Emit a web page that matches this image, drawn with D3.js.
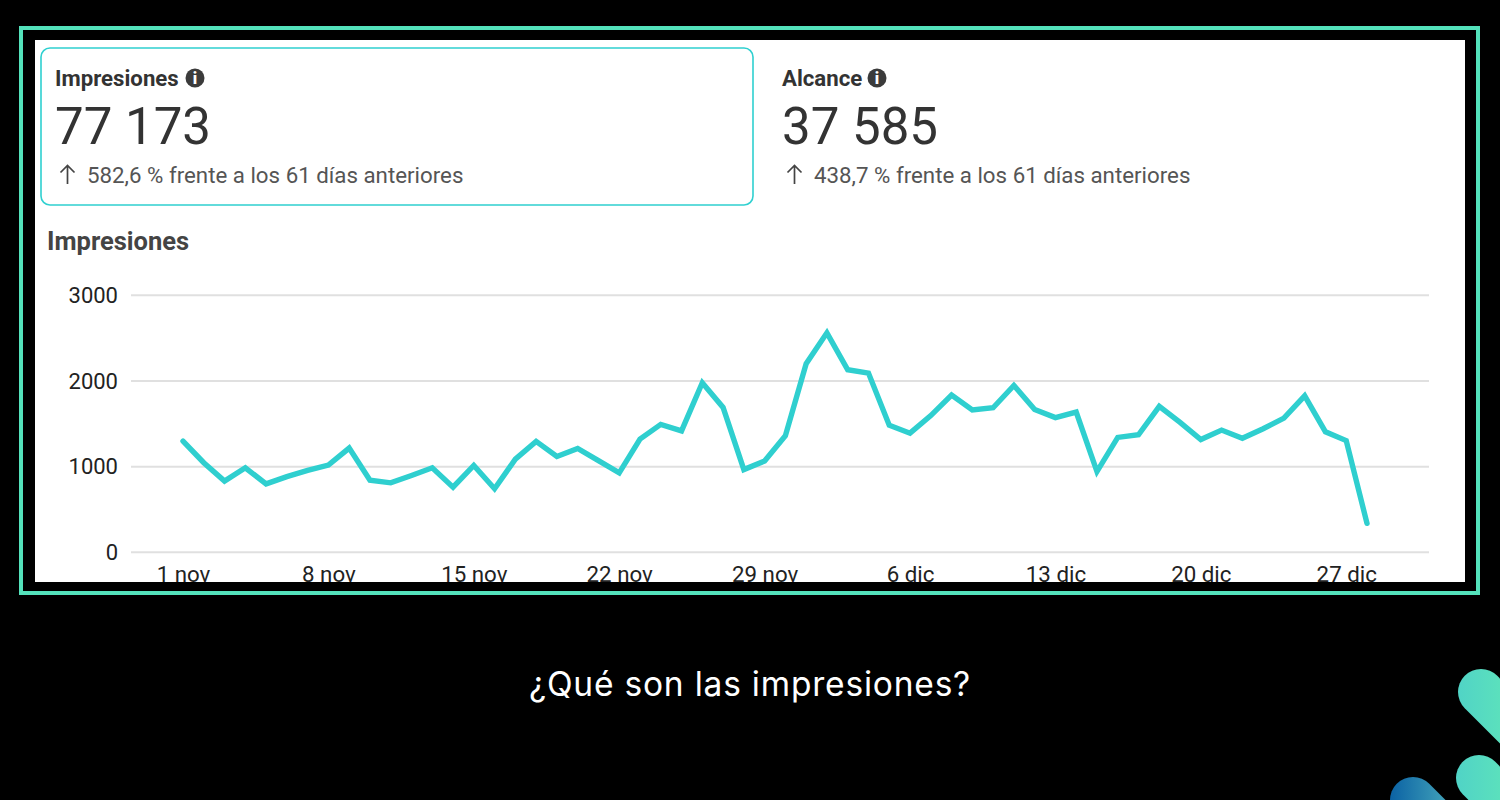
<!DOCTYPE html>
<html lang="es"><head><meta charset="utf-8">
<script src="https://cdn.jsdelivr.net/npm/d3@7/dist/d3.min.js"></script>
<style>html,body{margin:0;background:#000;overflow:hidden}svg{display:block}text{font-family:Roboto,sans-serif}</style>
</head><body><svg id="c" width="1500" height="800"></svg>
<script>
const impressions=[1292,1040,825,981,793,878,950,1012,1211,836,805,890,981,755,1009,736,1082,1289,1112,1207,1065,922,1315,1487,1411,1973,1685,960,1060,1355,2195,2556,2125,2086,1478,1385,1590,1829,1655,1681,1942,1660,1567,1631,937,1335,1366,1697,1511,1310,1421,1326,1437,1560,1821,1401,1298,332];
const tickDays=[0,7,14,21,28,35,42,49,56];
const tickLabels=["1 nov","8 nov","15 nov","22 nov","29 nov","6 dic","13 dic","20 dic","27 dic"];
const yTicks=[0,1000,2000,3000];
const cards=[
 {title:"Impresiones",total:"77 173",delta:"582,6 % frente a los 61 días anteriores"},
 {title:"Alcance",total:"37 585",delta:"438,7 % frente a los 61 días anteriores"}];
const chartTitle="Impresiones", caption="¿Qué son las impresiones?";

const svg=d3.select("#c");
const defs=svg.append("defs");
defs.append("clipPath").attr("id","panel").append("rect").attr("x",35).attr("y",40).attr("width",1430).attr("height",542);
const grad=defs.append("linearGradient").attr("id","deco").attr("gradientUnits","userSpaceOnUse")
 .attr("x1",1390).attr("y1",0).attr("x2",1500).attr("y2",0);
grad.append("stop").attr("offset",0).attr("stop-color","#0b62a4");
grad.append("stop").attr("offset",0.5).attr("stop-color","#3f9fb8");
grad.append("stop").attr("offset",0.6).attr("stop-color","#50d3c6");
grad.append("stop").attr("offset",1).attr("stop-color","#5be0bd");

svg.append("rect").attr("x",21).attr("y",28).attr("width",1457).attr("height",565).attr("fill","none").attr("stroke","#54e2bb").attr("stroke-width",4);
svg.append("rect").attr("x",35).attr("y",40).attr("width",1430).attr("height",542).attr("fill","#fff");
const g=svg.append("g").attr("clip-path","url(#panel)");

g.append("rect").attr("x",41).attr("y",48).attr("width",712).attr("height",157).attr("rx",9).attr("fill","#fff").attr("stroke","#2fd0d0").attr("stroke-width",1.6);

const cardX=[55,782], infoX=[195,877];
cards.forEach((c,i)=>{
 const x=cardX[i];
 g.append("text").attr("x",x).attr("y",85.5).attr("font-size",22.2).attr("font-weight",700).attr("fill","#333").text(c.title);
 g.append("circle").attr("cx",infoX[i]).attr("cy",78).attr("r",9.5).attr("fill","#3b3b3b");
 g.append("text").attr("x",infoX[i]).attr("y",84).attr("text-anchor","middle").attr("font-size",16).attr("font-weight",900).attr("fill","#fff").text("i");
 g.append("text").attr("x",x).attr("y",144).attr("font-size",51).attr("fill","#333").text(c.total);
 g.append("path").attr("d",`M${x+12.5} 184V165.5M${x+5.5} 172.5L${x+12.5} 165.5L${x+19.5} 172.5`).attr("fill","none").attr("stroke","#444").attr("stroke-width",1.7);
 g.append("text").attr("x",x+32).attr("y",183).attr("font-size",22.3).attr("fill","#555").text(c.delta);
});
g.append("text").attr("x",47).attr("y",249.5).attr("font-size",25.5).attr("font-weight",700).attr("fill","#444").text(chartTitle);

const x=d3.scaleLinear().domain([0,impressions.length-1]).range([183,1367]);
const y=d3.scaleLinear().domain([0,3000]).range([551.8,294.8]);

const ya=g.append("g").attr("transform","translate(131,0)")
 .call(d3.axisLeft(y).tickValues(yTicks).tickFormat(d3.format("d")).tickSize(-1298).tickPadding(13));
ya.select(".domain").remove();
ya.selectAll("line").attr("stroke","#e0e0e0").attr("stroke-width",2);
ya.selectAll("text").attr("font-size",22).attr("fill","#222").attr("font-family","Roboto,sans-serif").attr("transform","translate(0,0.7)");

const xa=g.append("g").attr("transform","translate(0,551.8)")
 .call(d3.axisBottom(x).tickValues(tickDays).tickFormat((d,i)=>tickLabels[i]).tickSize(0).tickPadding(14.6));
xa.select(".domain").remove();
xa.selectAll("text").attr("font-size",22.3).attr("fill","#222").attr("font-family","Roboto,sans-serif");

g.append("path").datum(impressions)
 .attr("d",d3.line().x((d,i)=>x(i)).y(d=>y(d)))
 .attr("fill","none").attr("stroke","#2fcfcf").attr("stroke-width",5.4).attr("stroke-linejoin","miter").attr("stroke-linecap","round");

svg.append("text").attr("x",750).attr("y",696).attr("text-anchor","middle").attr("font-size",33.5).attr("letter-spacing",0.8).attr("fill","#fff").style("font-family","Inter,sans-serif").text(caption);

const deco=[[1481,692,1560,771],[1479,778,1560,859],[1413,800,1480,867]];
svg.append("g").selectAll("line").data(deco).join("line")
 .attr("x1",d=>d[0]).attr("y1",d=>d[1]).attr("x2",d=>d[2]).attr("y2",d=>d[3])
 .attr("stroke","url(#deco)").attr("stroke-width",46).attr("stroke-linecap","round");
</script></body></html>
